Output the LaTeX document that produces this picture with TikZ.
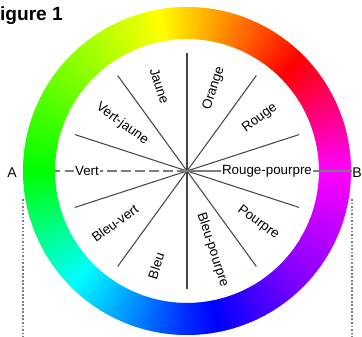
\documentclass[tikz,border=0pt]{standalone}
\usepackage{fontspec}
\setmainfont{Liberation Sans}
\usepackage{xcolor}
\usetikzlibrary{math}
\definecolor{qspoke}{RGB}{66,72,72}
\definecolor{qline}{RGB}{125,125,125}

\tikzset{
  lab/.style={font=\fontsize{7.6}{9}\selectfont, fill=white, inner sep=0.5pt},
  spoke/.style={color=qspoke, line width=0.6pt},
}

\begin{document}
\begin{tikzpicture}[x=0.2mm,y=0.2mm]

\tikzmath{
\Rout = 164;
\Rin = 132;
\Rs = 118;
\dw = 1.4; %overlap of the ring pieces
}

\clip (-187,-166) rectangle (175,171);
\coordinate (O) at (0,0);

%ring:
\foreach \a/\b/\ha/\hb in {0/45/300/360, 45/100/0/60, 100/180/60/120, 180/225/120/180, 225/270/180/230, 270/315/230/270, 315/360/270/300}{
  \pgfmathtruncatemacro{\e}{\b-1}
  \foreach \t in {\a,...,\e}{
    \pgfmathsetmacro{\h}{\ha+(\t+0.5-\a)*(\hb-\ha)/(\b-\a)}
    \pgfmathsetmacro{\tn}{\t+\dw}
    \definecolor{huec}{Hsb}{\h,1,1}
    \fill[huec] (\t:\Rout) arc[start angle=\t, end angle=\tn, radius=\Rout]
      -- (\tn:\Rin) arc[start angle=\tn, end angle=\t, radius=\Rin] -- cycle;
  }
}

%spokes:
\foreach \a in {18,54,...,342}
  \draw[spoke] (O) -- (\a:\Rs);

%line A-B:
\node[font=\fontsize{8}{9}\selectfont, inner sep=0.5pt] (A) at (-175,-2) {A};
\node[font=\fontsize{8}{9}\selectfont, anchor=west, inner sep=0pt] (B) at (165,-2) {B};
\coordinate (Li) at (-\Rin,0);
\draw[qline, line width=0.6pt, dash pattern=on 5.5pt off 2.5pt] (O) -- (Li);
\draw[qline, line width=0.6pt] (O) -- (B.west |- O);

%dotted tangents:
\coordinate (At) at (-164,-28);
\coordinate (Ab) at (-164,-166);
\coordinate (Bt) at (165,-28);
\coordinate (Bb) at (165,-166);
\draw[qline, line width=0.6pt, dash pattern=on 1pt off 1pt] (At) -- (Ab);
\draw[qline, line width=0.6pt, dash pattern=on 1pt off 1pt] (Bt) -- (Bb);

%labels:
\foreach \name/\txt/\ang/\r/\rot in {rp/Rouge-pourpre/0/80/0, rouge/Rouge/36/90/36, orange/Orange/72/87/72, jaune/Jaune/108/89/-72, vj/Vert-jaune/144/80/-36, vert/Vert/180/100/0, bv/Bleu-vert/216/89/36, bleu/Bleu/252/100/72, bp/Bleu-pourpre/288/83/-72, pourpre/Pourpre/324/88/-36}
  \node[lab, rotate=\rot] (\name) at (\ang:\r) {\txt};

\node[anchor=base west, font=\bfseries\fontsize{10.9}{12}\selectfont, inner sep=0pt] (fig) at (-199,150) {Figure 1};

\end{tikzpicture}
\end{document}
